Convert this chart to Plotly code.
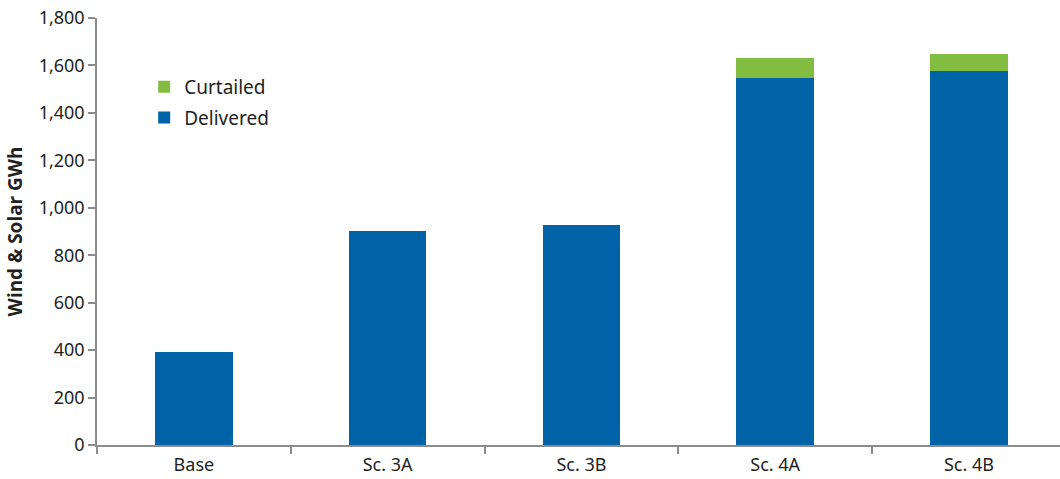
import plotly.graph_objects as go

categories = ["Base", "Sc. 3A", "Sc. 3B", "Sc. 4A", "Sc. 4B"]
delivered = [391, 903, 928, 1545, 1578]
curtailed = [0, 0, 0, 88, 72]
y_ticks = [0, 200, 400, 600, 800, 1000, 1200, 1400, 1600, 1800]
y_tick_labels = ["0", "200", "400", "600", "800", "1,000", "1,200", "1,400", "1,600", "1,800"]

FONT = "Noto Sans"
fig = go.Figure()
fig.add_trace(go.Bar(x=categories, y=delivered, name="Delivered", legendgroup="d", legendrank=2,
                     marker=dict(color="#0063A8", line=dict(width=0)), width=0.4))
fig.add_trace(go.Bar(x=categories, y=curtailed, name="Curtailed", legendgroup="c", legendrank=1,
                     marker=dict(color="#82BC41", line=dict(width=0)), width=0.4))

fig.update_layout(
    width=1060, height=479,
    margin=dict(l=97, r=0, t=18, b=34, autoexpand=False),
    barmode="stack",
    plot_bgcolor="white", paper_bgcolor="white",
    font=dict(family=FONT, size=18, color="#231F20"),
    showlegend=True,
    legend=dict(x=0.049, y=0.883, xanchor="left", yanchor="top",
                traceorder="grouped", font=dict(size=19, color="#231F20"),
                bgcolor="rgba(0,0,0,0)", itemwidth=30, tracegroupgap=3),
    xaxis=dict(range=[-0.5, 4.47], showline=True, linecolor="#8C8C8C", linewidth=1.5,
               ticks="outside", tickson="boundaries", ticklen=7, tickcolor="#8C8C8C",
               tickwidth=1.5, showgrid=False, tickfont=dict(size=18), automargin=False,
               ticklabelstandoff=3),
    yaxis=dict(range=[0, 1800], tickvals=y_ticks, ticktext=y_tick_labels,
               showline=True, linecolor="#8C8C8C", linewidth=1.5,
               ticks="outside", ticklen=7, tickcolor="#8C8C8C", tickwidth=1.5,
               showgrid=False, zeroline=False, tickfont=dict(size=18), automargin=False,
               title=dict(text="<b>Wind & Solar GWh</b>", font=dict(size=19), standoff=11)),
)
fig.write_html("out.html", config={"displayModeBar": False},
               post_script="document.body.style.margin='0';")
